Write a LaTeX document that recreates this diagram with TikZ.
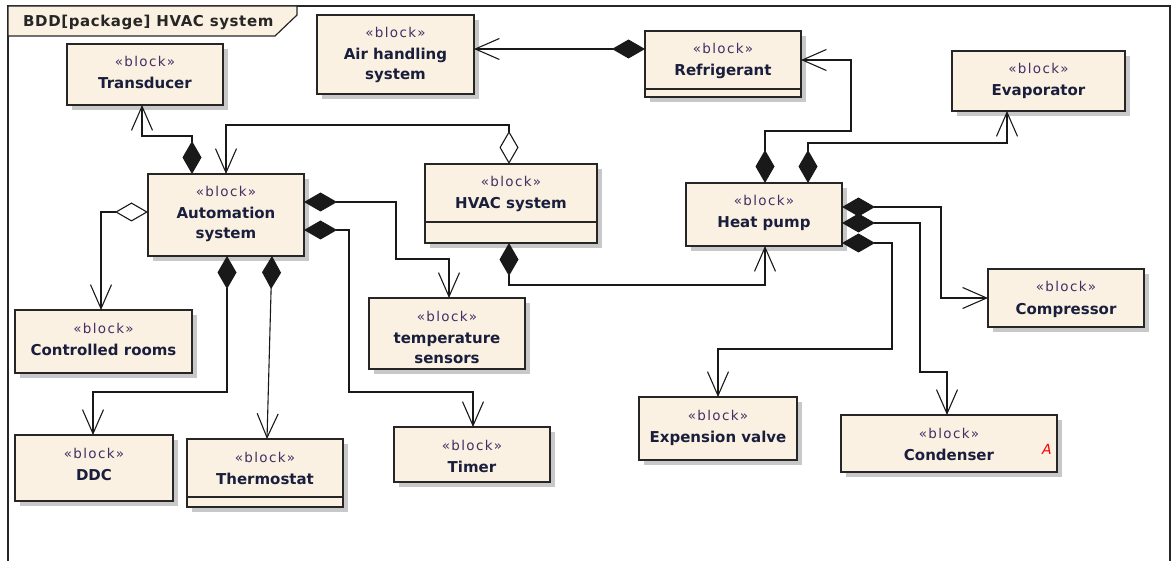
\documentclass[tikz,border=0pt]{standalone}
\usepackage{fontspec}
\setmainfont{DejaVu Sans}
\newfontfamily\sterfont[LetterSpace=10]{DejaVu Sans}
\newfontfamily\titlefont[LetterSpace=4]{DejaVu Sans}
\usetikzlibrary{arrows.meta,shadows,calc}
\definecolor{bfill}{RGB}{251,241,226}
\definecolor{shadowc}{RGB}{200,200,200}
\definecolor{namec}{RGB}{25,30,60}
\definecolor{sterc}{RGB}{70,45,100}
\newcommand\myblk[7]{%
  \node[blk, minimum width={(#4-#2)*1pt}, minimum height={(#5-#3)*1pt}] (#1) at ({(#2+#4)/2},{(#3+#5)/2}) {};
  \node[ster] (#1s) at ({(#2+#4)/2},{#3+23}) {«block»};
  \node[bname] (#1a) at ({(#2+#4)/2},{#3+45}) {#6};
  \if\relax\detokenize{#7}\relax\else\node[bname] (#1b) at ({(#2+#4)/2},{#3+65}) {#7};\fi
}
\begin{document}
\begin{tikzpicture}[x=1pt,y=-1pt,
  blk/.style={draw=black!85, line width=1.3pt, fill=bfill,
    general shadow={fill=shadowc, shadow xshift=5pt, shadow yshift=-5pt},
    inner sep=0pt, outer sep=0pt},
  ster/.style={anchor=base, inner sep=0pt, text=sterc, font=\sterfont\fontsize{13.5}{16}\selectfont},
  bname/.style={anchor=base, inner sep=0pt, text=namec, font=\fontsize{15}{18}\selectfont\bfseries},
  conn/.style={line width=1.1pt, draw=black!90},
  comp/.style={conn, {Diamond[length=33pt,width=19pt]}-{Straight Barb[length=24pt,width=21pt]}},
  aggr/.style={conn, {Diamond[length=33pt,width=19pt,fill=white]}-{Straight Barb[length=24pt,width=21pt]}},
]
\useasboundingbox (0,0) rectangle (1175,561);
% frame
\draw[line width=1.4pt, black!85] (8,561) -- (8,6) -- (1170,6) -- (1170,561);
\draw[line width=1.2pt, black!85, fill=bfill] (8,6) -- (297,6) -- (297,15) -- (275,36) -- (8,36) -- cycle;
\node[anchor=base west, inner sep=0pt, text=black!85, font=\titlefont\fontsize{15}{18}\selectfont\bfseries] (title) at (23,27) {BDD[package] HVAC system};
% blocks
\myblk{trans}{67}{44}{223}{105}{Transducer}{}
\myblk{air}{317}{15}{474}{94}{Air handling}{system}
\myblk{refr}{645}{31}{801}{97}{Refrigerant}{}
\myblk{evap}{952}{51}{1125}{111}{Evaporator}{}
\myblk{auto}{148}{174}{304}{256}{Automation}{system}
\myblk{rooms}{15}{310}{192}{373}{Controlled rooms}{}
\myblk{hvac}{425}{164}{597}{243}{HVAC system}{}
\myblk{hp}{686}{183}{842}{246}{Heat pump}{}
\myblk{tsens}{369}{298}{525}{369}{temperature}{sensors}
\myblk{compr}{988}{269}{1144}{327}{Compressor}{}
\myblk{ddc}{15}{435}{173}{501}{DDC}{}
\myblk{therm}{187}{439}{343}{507}{Thermostat}{}
\myblk{timer}{394}{427}{550}{482}{Timer}{}
\myblk{valve}{639}{397}{797}{460}{Expension valve}{}
\myblk{cond}{841}{415}{1057}{472}{Condenser}{}
% compartment lines
\draw[line width=1.3pt, black!85] (refr.west |- 0,89) -- (refr.east |- 0,89);
\draw[line width=1.3pt, black!85] (hvac.west |- 0,222) -- (hvac.east |- 0,222);
\draw[line width=1.3pt, black!85] (therm.west |- 0,497) -- (therm.east |- 0,497);
\node[inner sep=0pt, text=red, font=\fontsize{14}{16}\selectfont\itshape] (amark) at (1047,449) {A};
% connectors
\draw[comp] (auto.north -| 192,0) -- (192,136) -| (trans.south -| 142,0);
\draw[aggr] (hvac.north -| 509,0) -- (509,125) -| (auto.north -| 226,0);
\draw[aggr] (auto.west |- 0,212) -| (rooms.north -| 101,0);
\draw[comp] (auto.east |- 0,202) -| (396,259) -| (tsens.north -| 449,0);
\draw[comp] (auto.east |- 0,230) -| (349,392) -| (timer.north -| 473,0);
\draw[comp] (auto.south -| 227,0) |- (93,392) -- (ddc.north -| 93,0);
\draw[comp] (auto.south -| 272,0) -- (therm.north -| 267,0);
\draw[comp] (refr.west |- 0,49) -- (air.east |- 0,49);
\draw[comp] (hp.north -| 765,0) |- (851,131) |- (refr.east |- 0,60);
\draw[comp] (hp.north -| 808,0) |- (1007,143) -- (evap.south -| 1007,0);
\draw[comp] (hvac.south -| 509,0) |- (765,285) -- (hp.south -| 765,0);
\draw[comp] (hp.east |- 0,207) -| (941,298) -- (compr.west |- 0,298);
\draw[comp] (hp.east |- 0,223) -| (920,372) -| (cond.north -| 947,0);
\draw[comp] (hp.east |- 0,243) -| (892,349) -| (valve.north -| 718,0);
\end{tikzpicture}
\end{document}
